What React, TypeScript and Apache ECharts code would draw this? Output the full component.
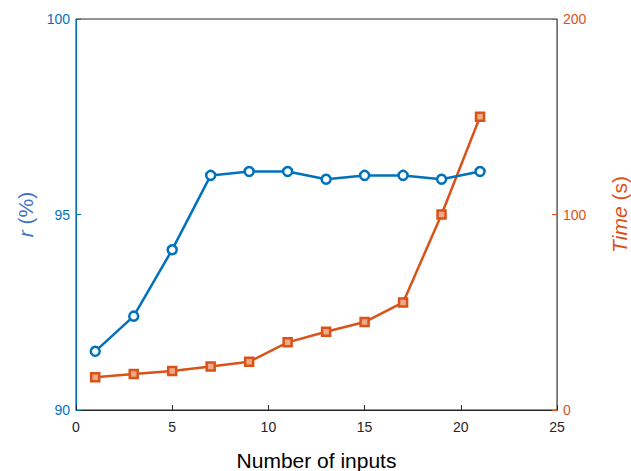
import React, { useEffect, useRef } from "react";
import * as echarts from "echarts";

const inputs = [1, 3, 5, 7, 9, 11, 13, 15, 17, 19, 21];
const rValues = [91.5, 92.4, 94.1, 96.0, 96.1, 96.1, 95.9, 96.0, 96.0, 95.9, 96.1];
const timeValues = [16.7, 18.4, 20, 22.3, 24.7, 34.6, 40, 45, 55, 100, 150];

const BLUE = "#0072BD";
const ORANGE = "#D95319";
const FONT = "Liberation Sans, Arial, sans-serif";

export default function App() {
  const ref = useRef<HTMLDivElement>(null);
  useEffect(() => {
    if (!ref.current) return;
    const chart = echarts.init(ref.current, undefined, { renderer: "svg" });
    chart.setOption({
      animation: false,
      backgroundColor: "#ffffff",
      grid: {
        left: 76,
        right: 74,
        top: 19,
        bottom: 61,
        containLabel: false,
        outerBoundsMode: "none",
        show: true,
        borderColor: "#262626",
        borderWidth: 1,
      },
      xAxis: {
        type: "value",
        min: 0,
        max: 25,
        interval: 5,
        name: "Number of inputs",
        nameLocation: "middle",
        nameGap: 40,
        nameTextStyle: { fontFamily: FONT, fontSize: 21, color: "#000" },
        axisLine: { show: true, lineStyle: { color: "#262626", width: 1 } },
        axisTick: { show: true, inside: true, length: 5, lineStyle: { color: "#262626" } },
        axisLabel: { fontFamily: FONT, fontSize: 14, color: "#262626", margin: 10 },
        splitLine: { show: false },
      },
      yAxis: [
        {
          type: "value",
          min: 90,
          max: 100,
          interval: 5,
          position: "left",
          name: "{i|r} (%)",
          nameLocation: "middle",
          nameRotate: 90,
          nameGap: 40,
          nameTextStyle: {
            fontFamily: FONT,
            fontSize: 21,
            color: "#4472C4",
            rich: { i: { fontStyle: "italic", fontFamily: FONT, fontSize: 21, color: "#4472C4" } },
          },
          axisLine: { show: true, lineStyle: { color: BLUE, width: 1 } },
          axisTick: { show: true, inside: true, length: 5, lineStyle: { color: BLUE } },
          axisLabel: { fontFamily: FONT, fontSize: 14, color: BLUE, margin: 6 },
          splitLine: { show: false },
        },
        {
          type: "value",
          min: 0,
          max: 200,
          interval: 100,
          position: "right",
          name: "{i|Time} (s)",
          nameLocation: "middle",
          nameRotate: 90,
          nameGap: 52,
          nameTextStyle: {
            fontFamily: FONT,
            fontSize: 21,
            color: ORANGE,
            rich: { i: { fontStyle: "italic", fontFamily: FONT, fontSize: 21, color: ORANGE } },
          },
          axisLine: { show: true, lineStyle: { color: ORANGE, width: 1 } },
          axisTick: { show: true, inside: true, length: 5, lineStyle: { color: ORANGE } },
          axisLabel: { fontFamily: FONT, fontSize: 14, color: ORANGE, margin: 6 },
          splitLine: { show: false },
        },
      ],
      series: [
        {
          type: "line",
          yAxisIndex: 0,
          data: inputs.map((x, i) => [x, rValues[i]]),
          lineStyle: { color: BLUE, width: 2.5 },
          symbol: "circle",
          symbolSize: 9,
          itemStyle: { color: "#ffffff", borderColor: BLUE, borderWidth: 2.5 },
          z: 3,
        },
        {
          type: "line",
          yAxisIndex: 1,
          data: inputs.map((x, i) => [x, timeValues[i]]),
          lineStyle: { color: ORANGE, width: 2.5 },
          symbol: "rect",
          symbolSize: 8,
          itemStyle: { color: "#eea98a", borderColor: ORANGE, borderWidth: 2.5 },
          z: 2,
        },
      ],
    });
    return () => chart.dispose();
  }, []);
  return <div ref={ref} style={{ width: 631, height: 471, position: "absolute", left: 0, top: 0 }} />;
}
